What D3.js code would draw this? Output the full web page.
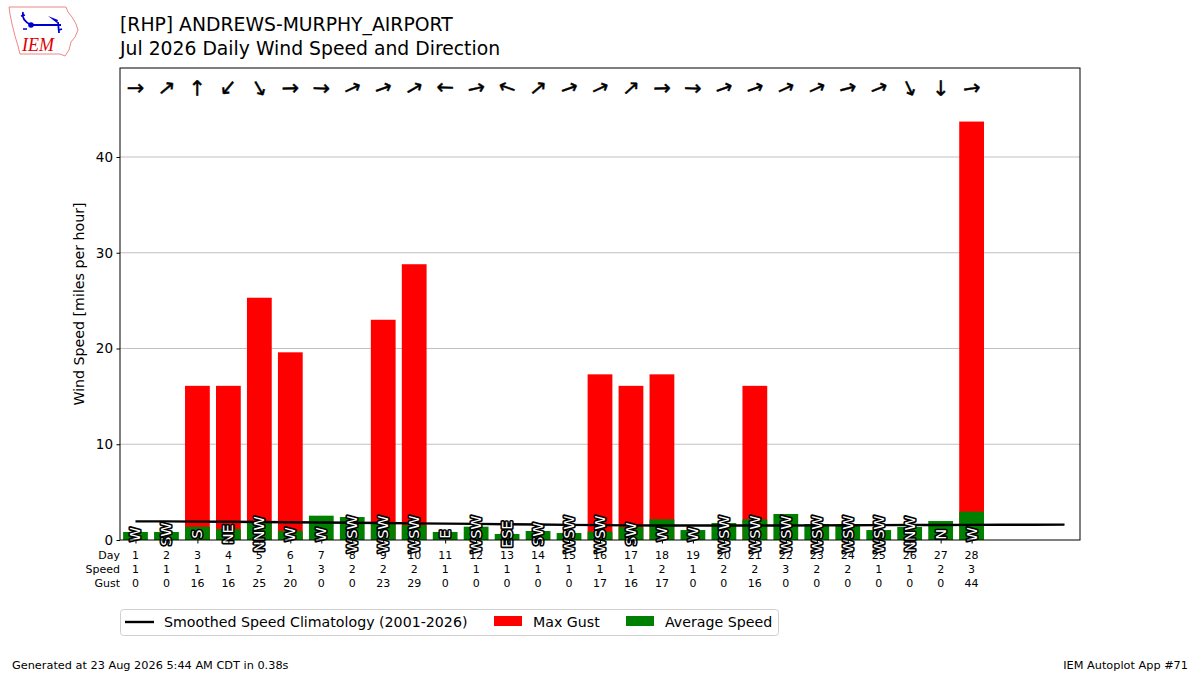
<!DOCTYPE html>
<html><head><meta charset="utf-8">
<script src="https://cdn.jsdelivr.net/npm/d3@7"></script>
<style>body{margin:0;background:#fff;}svg{font-family:"DejaVu Sans",sans-serif;}</style>
</head><body>
<svg id="c" width="1200" height="675"></svg>
<script>
const days = [1,2,3,4,5,6,7,8,9,10,11,12,13,14,15,16,17,18,19,20,21,22,23,24,25,26,27,28];
const avgSpeed = [0.84,0.84,1.39,1.15,1.8,0.94,2.54,2.4,1.77,1.55,0.84,1.39,0.63,0.94,0.73,0.87,1.36,2.16,1.04,1.77,2.16,2.72,1.67,1.55,1.04,1.36,1.98,2.96];
const maxGust = [0,0,16.1,16.1,25.3,19.6,0,0,23.0,28.8,0,0,0,0,0,17.3,16.1,17.3,0,0,16.1,0,0,0,0,0,0,43.7];
const dirDeg = [270,230,180,40,330,268,272,245,250,240,92,257,110,230,250,245,228,268,272,250,250,245,245,255,248,335,360,262];
const dirLabel = ["W","SW","S","NE","NNW","W","W","WSW","WSW","WSW","E","WSW","ESE","SW","WSW","WSW","SW","W","W","WSW","WSW","WSW","WSW","WSW","WSW","NNW","N","W"];
const climoDays = d3.range(1,32);
const climoSpeed = [1.95,1.94,1.92,1.90,1.88,1.86,1.83,1.80,1.77,1.74,1.71,1.68,1.65,1.62,1.58,1.55,1.53,1.52,1.51,1.51,1.51,1.52,1.53,1.54,1.55,1.56,1.57,1.58,1.59,1.60,1.61];
const yTicks = [0,10,20,30,40];
const title1 = "[RHP] ANDREWS-MURPHY_AIRPORT";
const title2 = "Jul 2026 Daily Wind Speed and Direction";

const svg = d3.select("#c");
const L=120,R=1080,T=68,B=540;
const x = d3.scaleLinear().domain([0.5,31.5]).range([L,R]);
const y = d3.scaleLinear().domain([0, d3.max(maxGust)*1.128]).range([B,T]);
const bw = x(1.4)-x(1.0);

// grid
svg.append("g").selectAll("line").data(yTicks.filter(d=>d>0)).join("line")
  .attr("x1",L).attr("x2",R).attr("y1",d=>y(d)).attr("y2",d=>y(d))
  .attr("stroke","#b0b0b0").attr("stroke-width",0.8);

// gust bars
svg.append("g").selectAll("rect").data(days).join("rect")
  .attr("x",(d)=>x(d)-bw).attr("width",bw*2)
  .attr("y",(d,i)=>y(maxGust[i])).attr("height",(d,i)=>y(0)-y(maxGust[i]))
  .attr("fill","#ff0000");
// avg bars
svg.append("g").selectAll("rect").data(days).join("rect")
  .attr("x",(d)=>x(d)-bw).attr("width",bw*2)
  .attr("y",(d,i)=>y(avgSpeed[i])).attr("height",(d,i)=>y(0)-y(avgSpeed[i]))
  .attr("fill","#008000");

// climatology line
svg.append("path").datum(climoDays)
  .attr("d",d3.line().x(d=>x(d)).y((d,i)=>y(climoSpeed[i])))
  .attr("fill","none").attr("stroke","#000").attr("stroke-width",2.4);

// direction labels
svg.append("g").selectAll("text").data(days).join("text")
  .attr("transform",(d)=>`translate(${x(d)},${y(0.6)}) rotate(-90)`)
  .attr("text-anchor","middle").attr("dominant-baseline","central")
  .attr("font-size",14.5).attr("fill","#fff").attr("stroke","#000").attr("stroke-width",3.2)
  .attr("paint-order","stroke").attr("stroke-linejoin","round")
  .text((d,i)=>dirLabel[i]);

// arrows
svg.append("g").selectAll("text").data(days).join("text")
  .attr("transform",(d,i)=>`translate(${x(d)},${88}) rotate(${dirDeg[i]+90})`)
  .attr("text-anchor","middle").attr("dominant-baseline","central")
  .attr("font-size",21).attr("fill","#000").attr("stroke","#000").attr("stroke-width",0.4)
  .text("→");

// frame
svg.append("rect").attr("x",L).attr("y",T).attr("width",R-L).attr("height",B-T)
  .attr("fill","none").attr("stroke","#000").attr("stroke-width",1);

// y axis
const ya = svg.append("g").attr("transform",`translate(${L},0)`)
  .call(d3.axisLeft(y).tickValues(yTicks).tickSize(3.5).tickPadding(3.5));
ya.select(".domain").remove();
ya.selectAll("text").attr("font-size",13.5).attr("font-family","DejaVu Sans").attr("fill","#000");
ya.selectAll("line").attr("stroke","#000");
svg.append("text").attr("transform",`translate(84,${(T+B)/2}) rotate(-90)`)
  .attr("text-anchor","middle").attr("font-size",14.2).text("Wind Speed [miles per hour]");

// x ticks and table
const xa = svg.append("g").attr("transform",`translate(0,${B})`)
  .call(d3.axisBottom(x).tickValues(days).tickSize(3.5).tickFormat(""));
xa.select(".domain").remove();
xa.selectAll("line").attr("stroke","#000");
const rows = [days.map(String), avgSpeed.map(v=>String(Math.round(v))), maxGust.map(v=>String(Math.round(v)))];
const rowNames = ["Day","Speed","Gust"];
rows.forEach((r,k)=>{
  svg.append("g").selectAll("text").data(days).join("text")
    .attr("x",d=>x(d)).attr("y",559+k*14).attr("text-anchor","middle")
    .attr("font-size",11).text((d,i)=>r[i]);
  svg.append("text").attr("x",120).attr("y",559+k*14).attr("text-anchor","end")
    .attr("font-size",11).text(rowNames[k]);
});

// titles
svg.append("text").attr("x",120).attr("y",31).attr("font-size",18.8).text(title1);
svg.append("text").attr("x",120).attr("y",55).attr("font-size",18.8).text(title2);

// legend
const lg = svg.append("g");
lg.append("rect").attr("x",120.5).attr("y",609.5).attr("width",658).attr("height",26).attr("rx",3)
  .attr("fill","#fff").attr("stroke","#d0d0d0");
lg.append("line").attr("x1",125).attr("x2",154).attr("y1",622).attr("y2",622).attr("stroke","#000").attr("stroke-width",2.4);
lg.append("text").attr("x",164).attr("y",627).attr("font-size",14.2).text("Smoothed Speed Climatology (2001-2026)");
lg.append("rect").attr("x",494).attr("y",616).attr("width",28).attr("height",10).attr("fill","#ff0000");
lg.append("text").attr("x",533).attr("y",627).attr("font-size",14.2).text("Max Gust");
lg.append("rect").attr("x",626).attr("y",616).attr("width",28).attr("height",10).attr("fill","#008000");
lg.append("text").attr("x",665).attr("y",627).attr("font-size",14.2).text("Average Speed");

// footer
svg.append("text").attr("x",12).attr("y",669).attr("font-size",11.3).text("Generated at 23 Aug 2026 5:44 AM CDT in 0.38s");
svg.append("text").attr("x",1188).attr("y",669).attr("font-size",11.3).attr("text-anchor","end").text("IEM Autoplot App #71");

// logo (simplified)
const lo = svg.append("g");
lo.append("path").attr("d","M9,7 L66,7 L68,12 L72,17 L76,24 L78,30 L75,37 L71,42 L69,50 L65,56 L60,54 L20,54 L18,46 L15,36 L12,24 L10,14 Z")
  .attr("fill","#fff").attr("stroke","#ee8888").attr("stroke-width",1);
lo.append("path").attr("d","M23,12 Q21,20 31,25 L61,25 M21,16 L25,15 M58,22 L59,33 M59,30 L62,29")
  .attr("fill","none").attr("stroke","#0000cc").attr("stroke-width",1.8);
lo.append("path").attr("d","M48,16 L58,20 L57,23 Z").attr("fill","#0000cc");
lo.append("circle").attr("cx",31).attr("cy",25).attr("r",2.8).attr("fill","#0000cc");
lo.append("circle").attr("cx",24).attr("cy",29).attr("r",1).attr("fill","#0000cc");
lo.append("circle").attr("cx",26).attr("cy",29).attr("r",1).attr("fill","#0000cc");
lo.append("text").attr("x",22).attr("y",51).attr("font-family","Liberation Serif").attr("font-style","italic")
  .attr("font-size",18).attr("fill","#dd0000").text("IEM");
</script>
</body></html>
